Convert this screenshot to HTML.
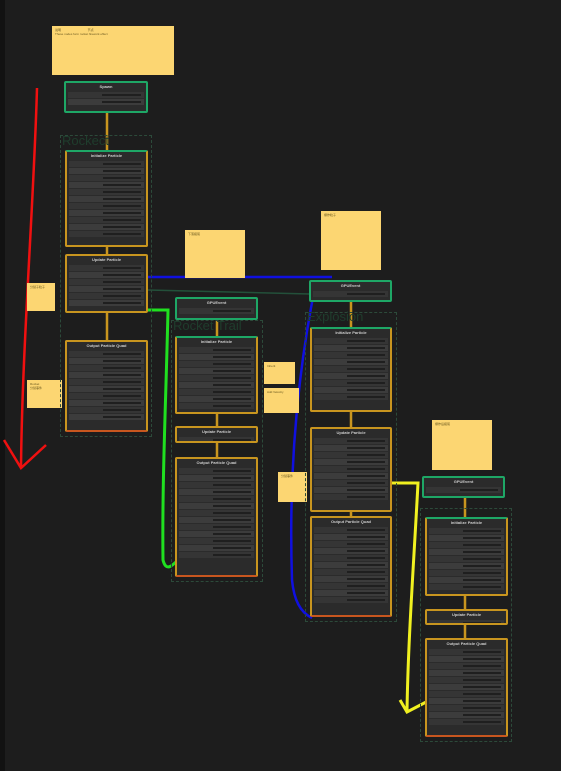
<!DOCTYPE html>
<html><head><meta charset="utf-8"><style>
body{margin:0;width:561px;height:771px;background:#1d1d1d;position:relative;overflow:hidden;font-family:"Liberation Sans","Noto Sans CJK SC",sans-serif;}
.a{position:absolute;box-sizing:border-box}
.st{background:#fcd672;color:#6b5a20;font-size:3px;padding:2px 3px;line-height:4px}
.n{background:#2b2b2b;border:2px solid #1ea766;border-radius:2px;overflow:hidden}
.o{border-color:#c8951f}
.go{border-color:#1ea766 #c8951f #c8951f #c8951f}
.oq{border-color:#c8951f #c8951f #c8561f #c8951f}
.h{height:8px;color:#ccc;font-size:4px;text-align:center;line-height:8px;font-weight:bold}
.r{height:6px;margin:1px 2px;background:#353535;position:relative}
.r.d{background:#3c3c3c}
.r:after{content:"";position:absolute;left:45%;right:4%;top:2px;height:2px;background:#1f1f1f}
.grp{border:1px dashed #2c4a3a}
.gl{color:#1f3d2d;font-size:13px;position:absolute}
</style></head><body>
<div class="a" style="left:0;top:0;width:5px;height:771px;background:#121212"></div>
<svg class="a" style="left:0;top:0" width="561" height="771">
<g stroke-width="2.5" fill="none">
<path d="M107 113 V150 M107 247 V254 M107 313 V340" stroke="#c8951f"/>
<path d="M217 320 V336 M217 414 V426 M217 443 V457" stroke="#c8951f"/>
<path d="M351 302 V327 M351 412 V427 M351 512 V516" stroke="#c8951f"/>
<path d="M465 498 V517 M465 596 V609 M465 625 V638" stroke="#c8951f"/>
<path d="M148 290 L310 294" stroke="#23503a" stroke-width="1.5"/>
<path d="M37 88 C34 200 22 350 21 468 M4 440 L21 468 L46 445" stroke="#f01010"/>
<path d="M146 310 H168 C166 400 162 480 163 560 C166 572 172 566 178 560" stroke="#20e020" stroke-width="3"/>
<path d="M146 277 H332 M316 282 C300 360 288 460 292 580 C294 600 300 612 312 618" stroke="#1010e0" stroke-width="2.5"/>
<path d="M392 483 H418 C414 560 408 640 407 712 M400 700 L407 712 L430 700" stroke="#f0f020" stroke-width="3"/>
</g></svg>
<div class="a st" style="left:52px;top:26px;width:122px;height:49px">说明 &nbsp;&nbsp;&nbsp;&nbsp;&nbsp;&nbsp;&nbsp;&nbsp;&nbsp;&nbsp;&nbsp;&nbsp;&nbsp;&nbsp;&nbsp;&nbsp;&nbsp;&nbsp;&nbsp;&nbsp;&nbsp;&nbsp;&nbsp;&nbsp;&nbsp;&nbsp;&nbsp;&nbsp;&nbsp;&nbsp; 节点<br>These nodes form rocket firework effect</div>
<div class="a st" style="left:27px;top:283px;width:28px;height:28px">分裂子粒子</div>
<div class="a st" style="left:27px;top:380px;width:35px;height:28px">Rocket<br>分裂事件</div>
<div class="a st" style="left:185px;top:230px;width:60px;height:48px">下落拖尾</div>
<div class="a st" style="left:264px;top:362px;width:31px;height:22px">Inherit</div>
<div class="a st" style="left:264px;top:388px;width:35px;height:25px">Add Velocity</div>
<div class="a st" style="left:278px;top:472px;width:29px;height:30px">分裂事件</div>
<div class="a st" style="left:321px;top:211px;width:60px;height:59px">爆炸粒子</div>
<div class="a st" style="left:432px;top:420px;width:60px;height:50px">爆炸后拖尾</div>
<div class="a grp" style="left:60px;top:135px;width:92px;height:302px"></div><div class="gl" style="left:62px;top:133px">Rockect</div>
<div class="a grp" style="left:171px;top:320px;width:92px;height:262px"></div><div class="gl" style="left:173px;top:318px">Rocket Trail</div>
<div class="a grp" style="left:305px;top:312px;width:92px;height:310px"></div><div class="gl" style="left:307px;top:309px">Explosion</div>
<div class="a grp" style="left:420px;top:508px;width:92px;height:234px"></div>
<div id="nodes"></div>
<script>
var N=[[64,81,84,32,"n","Spawn",2],[65,150,83,97,"n go","Initialize Particle",11],[65,254,83,59,"n o","Update Particle",6],[65,340,83,92,"n oq","Output Particle Quad",10],
[175,297,83,23,"n","GPUEvent",1],[175,336,83,78,"n go","Initialize Particle",9],[175,426,83,17,"n o","Update Particle",1],[175,457,83,120,"n oq","Output Particle Quad",13],
[309,280,83,22,"n","GPUEvent",1],[310,327,82,85,"n go","Initialize Particle",9],[310,427,82,85,"n o","Update Particle",9],[310,516,82,101,"n oq","Output Particle Quad",11],
[422,476,83,22,"n","GPUEvent",1],[425,517,83,79,"n go","Initialize Particle",9],[425,609,83,16,"n o","Update Particle",1],[425,638,83,99,"n oq","Output Particle Quad",11]];
var s="";N.forEach(function(n){var r="";for(var i=0;i<n[6];i++)r+='<div class="r'+(i%2?' d':'')+'"></div>';
s+='<div class="a '+n[4]+'" style="left:'+n[0]+'px;top:'+n[1]+'px;width:'+n[2]+'px;height:'+n[3]+'px"><div class="h">'+n[5]+'</div>'+r+'</div>';});
document.getElementById("nodes").innerHTML=s;
</script>
</body></html>
